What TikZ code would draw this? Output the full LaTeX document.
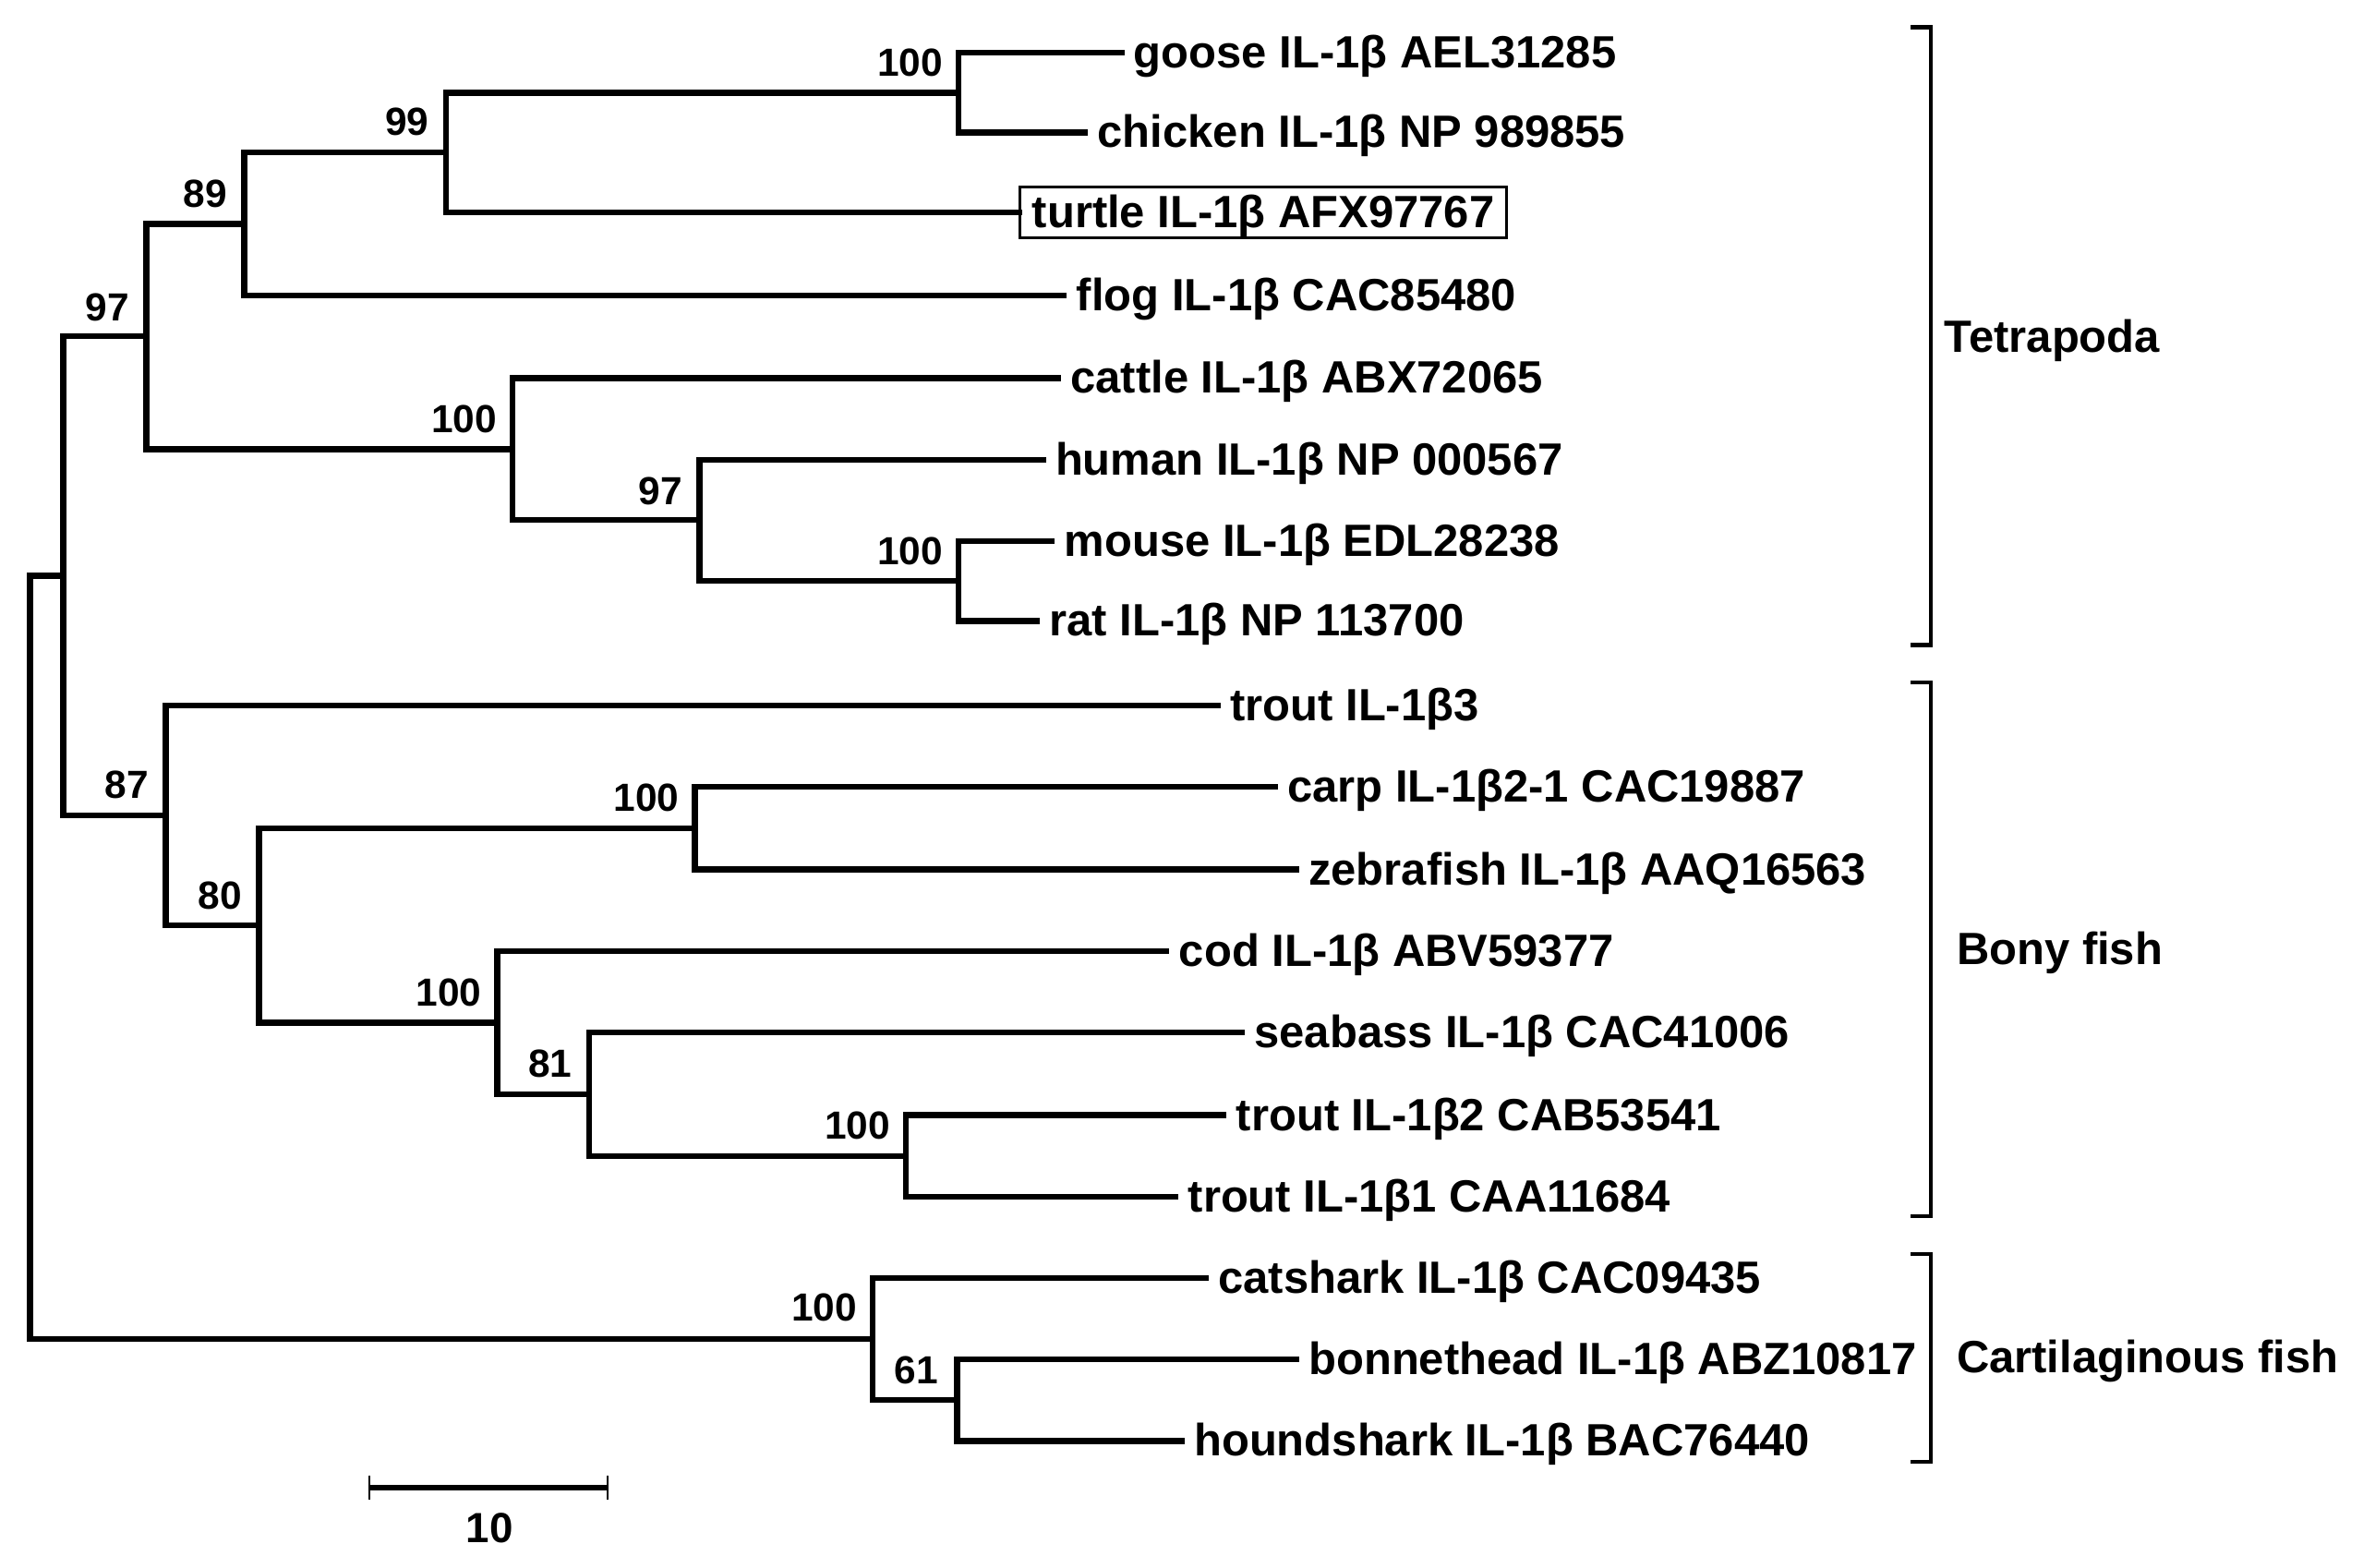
\documentclass[tikz,border=0pt]{standalone}
\usepackage{fontspec}
\setmainfont{Liberation Sans}
\begin{document}
\begin{tikzpicture}[x=0.5pt,y=-0.5pt,
  br/.style={line width=2pt, line join=miter, line cap=rect},
  leaf/.style={anchor=west, inner xsep=4pt, inner ysep=1.5pt, font=\bfseries\fontsize{15}{18}\selectfont, text height=12pt, text depth=2pt},
  boxed/.style={draw, line width=0.9pt},
  boot/.style={anchor=base east, inner sep=0pt, font=\bfseries\fontsize{13}{16}\selectfont},
  clade/.style={anchor=west, inner sep=0pt, font=\bfseries\fontsize{15}{18}\selectfont},
  brk/.style={line width=1.3pt, line join=miter},
  scalelab/.style={inner sep=0pt, font=\bfseries\fontsize{14}{16}\selectfont}]
\useasboundingbox (0,0) rectangle (1568,1040);

% leaves
\node[leaf] (goose) at (744,35) {goose IL-1β AEL31285};
\node[leaf] (chicken) at (720,88) {chicken IL-1β NP 989855};
\node[leaf,boxed] (turtle) at (676,141) {turtle IL-1β AFX97767};
\node[leaf] (flog) at (706,196) {flog IL-1β CAC85480};
\node[leaf] (cattle) at (702,251) {cattle IL-1β ABX72065};
\node[leaf] (human) at (692,305) {human IL-1β NP 000567};
\node[leaf] (mouse) at (698,359) {mouse IL-1β EDL28238};
\node[leaf] (rat) at (688,412) {rat IL-1β NP 113700};
\node[leaf] (trout3) at (808,468) {trout IL-1β3};
\node[leaf] (carp) at (846,522) {carp IL-1β2-1 CAC19887};
\node[leaf] (zebra) at (860,577) {zebrafish IL-1β AAQ16563};
\node[leaf] (cod) at (774,631) {cod IL-1β ABV59377};
\node[leaf] (seabass) at (824,685) {seabass IL-1β CAC41006};
\node[leaf] (trout2) at (812,740) {trout IL-1β2 CAB53541};
\node[leaf] (trout1) at (780,794) {trout IL-1β1 CAA11684};
\node[leaf] (catshark) at (800,848) {catshark IL-1β CAC09435};
\node[leaf] (bonnet) at (860,902) {bonnethead IL-1β ABZ10817};
\node[leaf] (hound) at (784,956) {houndshark IL-1β BAC76440};

% internal nodes
\coordinate (gc) at (636,61.5);
\coordinate (n99) at (296,101);
\coordinate (n89) at (162,148.5);
\coordinate (mr) at (636,385.5);
\coordinate (n97b) at (464,345);
\coordinate (n100c) at (340,298);
\coordinate (n97) at (97,223);
\coordinate (cz) at (461,549.5);
\coordinate (tt) at (601,767);
\coordinate (n81) at (391,726);
\coordinate (n100d) at (330,678.5);
\coordinate (n80) at (172,614);
\coordinate (n87) at (110,541);
\coordinate (tb) at (42,382);
\coordinate (cart) at (579,888.5);
\coordinate (n61) at (635,929);
\coordinate (root) at (20,635);

% branches
\draw[br] (goose.west) -| (gc) |- (chicken.west);
\draw[br] (gc) -| (n99) |- (turtle.west);
\draw[br] (n99) -| (n89) |- (flog.west);
\draw[br] (mouse.west) -| (mr) |- (rat.west);
\draw[br] (human.west) -| (n97b) |- (mr);
\draw[br] (cattle.west) -| (n100c) |- (n97b);
\draw[br] (n89) -| (n97) |- (n100c);
\draw[br] (carp.west) -| (cz) |- (zebra.west);
\draw[br] (trout2.west) -| (tt) |- (trout1.west);
\draw[br] (seabass.west) -| (n81) |- (tt);
\draw[br] (cod.west) -| (n100d) |- (n81);
\draw[br] (cz) -| (n80) |- (n100d);
\draw[br] (trout3.west) -| (n87) |- (n80);
\draw[br] (n97) -| (tb) |- (n87);
\draw[br] (bonnet.west) -| (n61) |- (hound.west);
\draw[br] (catshark.west) -| (cart) |- (n61);
\draw[br] (tb) -| (root) |- (cart);

% bootstrap values
\node[boot] (b1) at ([shift={(-10,-11)}]gc) {100};
\node[boot] (b2) at ([shift={(-11,-11)}]n99) {99};
\node[boot] (b3) at ([shift={(-11,-11)}]n89) {89};
\node[boot] (b4) at ([shift={(-11,-10)}]n97) {97};
\node[boot] (b5) at ([shift={(-10,-11)}]n100c) {100};
\node[boot] (b6) at ([shift={(-11,-10)}]n97b) {97};
\node[boot] (b7) at ([shift={(-10,-11)}]mr) {100};
\node[boot] (b8) at ([shift={(-11,-11)}]n87) {87};
\node[boot] (b9) at ([shift={(-11,-11)}]n80) {80};
\node[boot] (b10) at ([shift={(-10,-11)}]cz) {100};
\node[boot] (b11) at ([shift={(-10,-11)}]n100d) {100};
\node[boot] (b12) at ([shift={(-11,-11)}]n81) {81};
\node[boot] (b13) at ([shift={(-10,-11)}]tt) {100};
\node[boot] (b14) at ([shift={(-10,-12)}]cart) {100};
\node[boot] (b15) at ([shift={(-12,-11)}]n61) {61};

% scale bar
\coordinate (s1) at (245,987);
\coordinate (s2) at (403,987);
\draw[line width=2pt] (s1) -- (s2);
\draw[line width=0.6pt] (s1) ++(0,-8) -- ++(0,16);
\draw[line width=0.6pt] (s2) ++(0,-8) -- ++(0,16);
\node[scalelab] (sl) at (325,1014) {10};

% clade brackets
\coordinate (tA) at (1281,18);
\coordinate (tB) at (1281,428);
\coordinate (bA) at (1281,453);
\coordinate (bB) at (1281,807);
\coordinate (cA) at (1281,832);
\coordinate (cB) at (1281,970);
\draw[brk] (tA) ++(-13,0) -- (tA) -- (tB) -- ++(-13,0);
\draw[brk] (bA) ++(-13,0) -- (bA) -- (bB) -- ++(-13,0);
\draw[brk] (cA) ++(-13,0) -- (cA) -- (cB) -- ++(-13,0);
\node[clade] (tetra) at (1290,226) {Tetrapoda};
\node[clade] (bony) at (1298,632) {Bony fish};
\node[clade] (cartl) at (1298,903) {Cartilaginous fish};
\end{tikzpicture}
\end{document}
